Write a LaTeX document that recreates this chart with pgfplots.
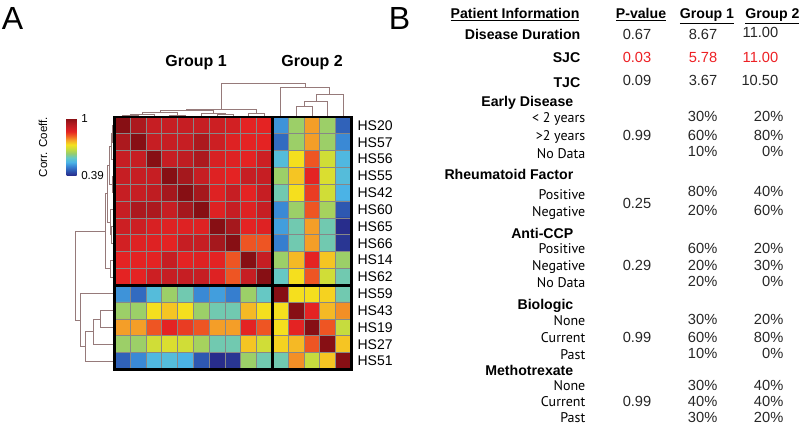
\documentclass[border=0pt]{standalone}
\usepackage{fontspec}
\setmainfont{Liberation Sans}
\newfontfamily\subfont{PT Sans}
\usepackage{pgfplots}
\usepackage{pgfplotstable}
\pgfplotsset{compat=1.18}
\definecolor{dendro}{RGB}{150,122,122}
\definecolor{sigred}{RGB}{237,32,36}
\definecolor{cellgrid}{RGB}{135,135,135}
\newcommand\hd{\fontsize{10.6}{12}\selectfont\bfseries}
\newcommand\sublab{\subfont\fontsize{10.5}{12}\selectfont}
\newcommand\nm{\fontsize{11}{13}\selectfont\color{black!85}}

% correlation matrix: x = column, y = row (HS20 ... HS51)
\pgfplotstableread[row sep=\\]{
x y c\\
1 1 1.00\\ 2 1 0.95\\ 3 1 0.91\\ 4 1 0.91\\ 5 1 0.91\\ 6 1 0.91\\ 7 1 0.90\\ 8 1 0.89\\ 9 1 0.86\\ 10 1 0.86\\ 11 1 0.50\\ 12 1 0.63\\ 13 1 0.77\\ 14 1 0.63\\ 15 1 0.45\\
1 2 0.95\\ 2 2 1.00\\ 3 2 0.91\\ 4 2 0.91\\ 5 2 0.91\\ 6 2 0.95\\ 7 2 0.90\\ 8 2 0.87\\ 9 2 0.86\\ 10 2 0.86\\ 11 2 0.46\\ 12 2 0.63\\ 13 2 0.77\\ 14 2 0.63\\ 15 2 0.49\\
1 3 0.91\\ 2 3 0.91\\ 3 3 1.00\\ 4 3 0.91\\ 5 3 0.92\\ 6 3 0.95\\ 7 3 0.88\\ 8 3 0.87\\ 9 3 0.86\\ 10 3 0.90\\ 11 3 0.55\\ 12 3 0.72\\ 13 3 0.82\\ 14 3 0.68\\ 15 3 0.54\\
1 4 0.91\\ 2 4 0.91\\ 3 4 0.91\\ 4 4 1.00\\ 5 4 0.96\\ 6 4 0.91\\ 7 4 0.87\\ 8 4 0.86\\ 9 4 0.91\\ 10 4 0.91\\ 11 4 0.63\\ 12 4 0.74\\ 13 4 0.86\\ 14 4 0.69\\ 15 4 0.55\\
1 5 0.91\\ 2 5 0.91\\ 3 5 0.92\\ 4 5 0.96\\ 5 5 1.00\\ 6 5 0.96\\ 7 5 0.87\\ 8 5 0.91\\ 9 5 0.86\\ 10 5 0.91\\ 11 5 0.59\\ 12 5 0.72\\ 13 5 0.84\\ 14 5 0.68\\ 15 5 0.53\\
1 6 0.91\\ 2 6 0.95\\ 3 6 0.95\\ 4 6 0.91\\ 5 6 0.96\\ 6 6 1.00\\ 7 6 0.87\\ 8 6 0.91\\ 9 6 0.87\\ 10 6 0.91\\ 11 6 0.49\\ 12 6 0.63\\ 13 6 0.82\\ 14 6 0.64\\ 15 6 0.44\\
1 7 0.90\\ 2 7 0.90\\ 3 7 0.88\\ 4 7 0.87\\ 5 7 0.87\\ 6 7 0.87\\ 7 7 1.00\\ 8 7 0.96\\ 9 7 0.86\\ 10 7 0.87\\ 11 7 0.51\\ 12 7 0.59\\ 13 7 0.77\\ 14 7 0.59\\ 15 7 0.39\\
1 8 0.89\\ 2 8 0.87\\ 3 8 0.87\\ 4 8 0.86\\ 5 8 0.91\\ 6 8 0.91\\ 7 8 0.96\\ 8 8 1.00\\ 9 8 0.82\\ 10 8 0.82\\ 11 8 0.48\\ 12 8 0.59\\ 13 8 0.77\\ 14 8 0.59\\ 15 8 0.40\\
1 9 0.86\\ 2 9 0.86\\ 3 9 0.86\\ 4 9 0.91\\ 5 9 0.86\\ 6 9 0.87\\ 7 9 0.86\\ 8 9 0.82\\ 9 9 1.00\\ 10 9 0.91\\ 11 9 0.63\\ 12 9 0.75\\ 13 9 0.86\\ 14 9 0.74\\ 15 9 0.63\\
1 10 0.86\\ 2 10 0.86\\ 3 10 0.90\\ 4 10 0.91\\ 5 10 0.91\\ 6 10 0.91\\ 7 10 0.87\\ 8 10 0.82\\ 9 10 0.91\\ 10 10 1.00\\ 11 10 0.58\\ 12 10 0.72\\ 13 10 0.82\\ 14 10 0.68\\ 15 10 0.59\\
1 11 0.50\\ 2 11 0.46\\ 3 11 0.55\\ 4 11 0.63\\ 5 11 0.59\\ 6 11 0.49\\ 7 11 0.51\\ 8 11 0.48\\ 9 11 0.63\\ 10 11 0.58\\ 11 11 1.00\\ 12 11 0.72\\ 13 11 0.72\\ 14 11 0.73\\ 15 11 0.59\\
1 12 0.63\\ 2 12 0.63\\ 3 12 0.72\\ 4 12 0.74\\ 5 12 0.72\\ 6 12 0.63\\ 7 12 0.59\\ 8 12 0.59\\ 9 12 0.75\\ 10 12 0.72\\ 11 12 0.72\\ 12 12 1.00\\ 13 12 0.86\\ 14 12 0.75\\ 15 12 0.78\\
1 13 0.77\\ 2 13 0.77\\ 3 13 0.82\\ 4 13 0.86\\ 5 13 0.84\\ 6 13 0.82\\ 7 13 0.77\\ 8 13 0.77\\ 9 13 0.86\\ 10 13 0.82\\ 11 13 0.72\\ 12 13 0.86\\ 13 13 1.00\\ 14 13 0.82\\ 15 13 0.67\\
1 14 0.63\\ 2 14 0.63\\ 3 14 0.68\\ 4 14 0.69\\ 5 14 0.68\\ 6 14 0.64\\ 7 14 0.59\\ 8 14 0.59\\ 9 14 0.74\\ 10 14 0.68\\ 11 14 0.73\\ 12 14 0.75\\ 13 14 0.82\\ 14 14 1.00\\ 15 14 0.74\\
1 15 0.45\\ 2 15 0.49\\ 3 15 0.54\\ 4 15 0.55\\ 5 15 0.53\\ 6 15 0.44\\ 7 15 0.39\\ 8 15 0.40\\ 9 15 0.63\\ 10 15 0.59\\ 11 15 0.59\\ 12 15 0.78\\ 13 15 0.67\\ 14 15 0.74\\ 15 15 1.00\\
}\corrtable

\begin{document}
\begin{tikzpicture}
\useasboundingbox (0,0) rectangle (600pt,-320.25pt);
\begin{axis}[
  at={(85.9pt,-87.75pt)}, anchor=north west,
  scale only axis, width=177.75pt, height=189.4pt,
  xmin=0.5, xmax=15.5, ymin=0.5, ymax=15.5, y dir=reverse,
  clip=false, axis on top,
  axis line style={black, line width=2.2pt},
  major tick length=0pt,
  xtick=\empty,
  ytick={1,...,15},
  yticklabels={HS20,HS57,HS56,HS55,HS42,HS60,HS65,HS66,HS14,HS62,HS59,HS43,HS19,HS27,HS51},
  yticklabel pos=right,
  yticklabel style={font=\fontsize{10.5}{12}\selectfont, xshift=1pt},
  extra x ticks={10.5}, extra y ticks={10.5},
  extra x tick labels={}, extra y tick labels={},
  extra tick style={grid=major, major grid style={black, line width=2.2pt}},
  colormap={corr}{rgb255=(40,45,140) rgb255=(45,85,175) rgb255=(55,130,210)
    rgb255=(75,180,230) rgb255=(100,200,200) rgb255=(150,205,110)
    rgb255=(200,220,60) rgb255=(245,225,30) rgb255=(245,165,40)
    rgb255=(240,95,35) rgb255=(228,35,35) rgb255=(200,30,35)
    rgb255=(170,25,30) rgb255=(135,15,20)},
  point meta min=0.39, point meta max=1,
  colorbar,
  colorbar style={
    at={(parent axis.north west)}, anchor=north east,
    xshift=-37pt, yshift=-1pt,
    scale only axis, width=7.5pt, height=42.75pt,
    ytick={0.39,1}, yticklabels={0.39,1},
    yticklabel pos=right,
    yticklabel style={font=\fontsize{8.7}{10}\selectfont},
    major tick length=0pt,
    axis line style={draw=none},
  },
]
\addplot[matrix plot*, shader=flat corner, mesh/cols=15, point meta=explicit]
  table[x=x, y=y, meta=c] {\corrtable};

% thin grey lines between cells
\addplot[cellgrid, line width=0.7pt, unbounded coords=jump] coordinates {
  (1.5,0.5)(1.5,15.5) (nan,nan) (2.5,0.5)(2.5,15.5) (nan,nan)
  (3.5,0.5)(3.5,15.5) (nan,nan) (4.5,0.5)(4.5,15.5) (nan,nan)
  (5.5,0.5)(5.5,15.5) (nan,nan) (6.5,0.5)(6.5,15.5) (nan,nan)
  (7.5,0.5)(7.5,15.5) (nan,nan) (8.5,0.5)(8.5,15.5) (nan,nan)
  (9.5,0.5)(9.5,15.5) (nan,nan) (11.5,0.5)(11.5,15.5) (nan,nan)
  (12.5,0.5)(12.5,15.5) (nan,nan) (13.5,0.5)(13.5,15.5) (nan,nan)
  (14.5,0.5)(14.5,15.5) (nan,nan)
  (0.5,1.5)(15.5,1.5) (nan,nan) (0.5,2.5)(15.5,2.5) (nan,nan)
  (0.5,3.5)(15.5,3.5) (nan,nan) (0.5,4.5)(15.5,4.5) (nan,nan)
  (0.5,5.5)(15.5,5.5) (nan,nan) (0.5,6.5)(15.5,6.5) (nan,nan)
  (0.5,7.5)(15.5,7.5) (nan,nan) (0.5,8.5)(15.5,8.5) (nan,nan)
  (0.5,9.5)(15.5,9.5) (nan,nan) (0.5,11.5)(15.5,11.5) (nan,nan)
  (0.5,12.5)(15.5,12.5) (nan,nan) (0.5,13.5)(15.5,13.5) (nan,nan)
  (0.5,14.5)(15.5,14.5)
};

% column dendrogram (above)
\addplot[dendro, line width=0.6pt, unbounded coords=jump] coordinates {
  (1,0.5)(1,0.41)(2,0.41)(2,0.5) (nan,nan)
  (1.5,0.41)(1.5,0.32)(3,0.32)(3,0.5) (nan,nan)
  (4,0.5)(4,0.38)(5,0.38)(5,0.5) (nan,nan)
  (2.25,0.32)(2.25,0.23)(4.5,0.23)(4.5,0.38) (nan,nan)
  (7,0.5)(7,0.35)(8,0.35)(8,0.5) (nan,nan)
  (6,0.5)(6,0.26)(7.5,0.26)(7.5,0.35) (nan,nan)
  (3.375,0.23)(3.375,0.11)(6.75,0.11)(6.75,0.26) (nan,nan)
  (9,0.5)(9,0.26)(10,0.26)(10,0.5) (nan,nan)
  (5.06,0.11)(5.06,0.02)(9.5,0.02)(9.5,0.26) (nan,nan)
  (12,0.5)(12,-0.157)(13,-0.157)(13,0.5) (nan,nan)
  (12.5,-0.157)(12.5,-0.455)(14,-0.455)(14,0.5) (nan,nan)
  (13.25,-0.455)(13.25,-0.83)(15,-0.83)(15,0.5) (nan,nan)
  (11,0.5)(11,-1.23)(14.125,-1.23)(14.125,-0.83) (nan,nan)
  (7.28,0.02)(7.28,-1.49)(12.56,-1.49)(12.56,-1.23)
};

% row dendrogram (left)
\addplot[dendro, line width=0.6pt, unbounded coords=jump] coordinates {
  (0.5,1)(0.373,1)(0.373,2)(0.5,2) (nan,nan)
  (0.373,1.5)(0.278,1.5)(0.278,3)(0.5,3) (nan,nan)
  (0.5,4)(0.342,4)(0.342,5)(0.5,5) (nan,nan)
  (0.278,2.25)(0.184,2.25)(0.184,4.5)(0.342,4.5) (nan,nan)
  (0.5,7)(0.31,7)(0.31,8)(0.5,8) (nan,nan)
  (0.5,6)(0.215,6)(0.215,7.5)(0.31,7.5) (nan,nan)
  (0.184,3.375)(0.057,3.375)(0.057,6.75)(0.215,6.75) (nan,nan)
  (0.5,9)(0.215,9)(0.215,10)(0.5,10) (nan,nan)
  (0.057,5.06)(-0.07,5.06)(-0.07,9.5)(0.215,9.5) (nan,nan)
  (0.5,12)(-0.386,12)(-0.386,13)(0.5,13) (nan,nan)
  (-0.386,12.5)(-0.829,12.5)(-0.829,14)(0.5,14) (nan,nan)
  (-0.829,13.25)(-1.335,13.25)(-1.335,15)(0.5,15) (nan,nan)
  (0.5,11)(-1.652,11)(-1.652,14.125)(-1.335,14.125) (nan,nan)
  (-0.07,7.28)(-1.968,7.28)(-1.968,12.56)(-1.652,12.56)
};
\end{axis}

\begin{scope}[x=0.75pt, y=-0.75pt]
% panel letters and group titles
\node[font=\fontsize{24}{28}\selectfont] at (12.5,18.5) {A};
\node[font=\fontsize{24}{28}\selectfont] at (399.5,18.5) {B};
\node[font=\fontsize{12}{14}\selectfont\bfseries] at (196,63) {Group 1};
\node[font=\fontsize{12}{14}\selectfont\bfseries] at (312,63) {Group 2};
\node[font=\fontsize{8.7}{10}\selectfont, rotate=90] at (43,147) {Corr. Coeff.};

% table header
\node[anchor=mid, font=\hd] at (515,15) {\underline{Patient Information}};
\node[anchor=mid, font=\hd] at (641,15) {\underline{P-value}};
\node[anchor=mid, font=\hd] at (707,15) {\underline{Group 1}};
\node[anchor=mid west, font=\hd, inner xsep=0pt] at (745,15) {\underline{Group 2}};

% continuous variables
\node[anchor=mid east, font=\hd] at (585,36) {Disease Duration};
\node[anchor=mid east, font=\nm] at (656,36) {0.67};
\node[anchor=mid east, font=\nm] at (722,36) {8.67};
\node[anchor=mid east, font=\nm] at (783,34) {11.00};
\node[anchor=mid east, font=\hd] at (585,59) {SJC};
\node[anchor=mid east, font=\nm\color{sigred}] at (656,59) {0.03};
\node[anchor=mid east, font=\nm\color{sigred}] at (722,59) {5.78};
\node[anchor=mid east, font=\nm\color{sigred}] at (783,59) {11.00};
\node[anchor=mid east, font=\hd] at (585,84) {TJC};
\node[anchor=mid east, font=\nm] at (656,82) {0.09};
\node[anchor=mid east, font=\nm] at (722,82) {3.67};
\node[anchor=mid east, font=\nm] at (783,82) {10.50};

% Early Disease
\node[anchor=mid east, font=\hd] at (578,103) {Early Disease};
\node[anchor=mid east, font=\sublab] at (590,119) {< 2 years};
\node[anchor=mid east, font=\nm] at (722,118) {30\%};
\node[anchor=mid east, font=\nm] at (788,118) {20\%};
\node[anchor=mid east, font=\sublab] at (590,137) {>2 years};
\node[anchor=mid east, font=\nm] at (656,137) {0.99};
\node[anchor=mid east, font=\nm] at (722,137) {60\%};
\node[anchor=mid east, font=\nm] at (788,137) {80\%};
\node[anchor=mid east, font=\sublab] at (590,155) {No Data};
\node[anchor=mid east, font=\nm] at (722,153) {10\%};
\node[anchor=mid east, font=\nm] at (788,153) {0\%};

% Rheumatoid Factor
\node[anchor=mid east, font=\hd] at (578,176) {Rheumatoid Factor};
\node[anchor=mid east, font=\sublab] at (590,196) {Positive};
\node[anchor=mid east, font=\nm] at (722,193) {80\%};
\node[anchor=mid east, font=\nm] at (788,193) {40\%};
\node[anchor=mid east, font=\nm] at (656,205) {0.25};
\node[anchor=mid east, font=\sublab] at (590,213) {Negative};
\node[anchor=mid east, font=\nm] at (722,212) {20\%};
\node[anchor=mid east, font=\nm] at (788,212) {60\%};

% Anti-CCP
\node[anchor=mid east, font=\hd] at (578,235) {Anti-CCP};
\node[anchor=mid east, font=\sublab] at (590,250) {Positive};
\node[anchor=mid east, font=\nm] at (722,250) {60\%};
\node[anchor=mid east, font=\nm] at (788,250) {20\%};
\node[anchor=mid east, font=\sublab] at (590,267) {Negative};
\node[anchor=mid east, font=\nm] at (656,267) {0.29};
\node[anchor=mid east, font=\nm] at (722,267) {20\%};
\node[anchor=mid east, font=\nm] at (788,267) {30\%};
\node[anchor=mid east, font=\sublab] at (590,284) {No Data};
\node[anchor=mid east, font=\nm] at (722,283) {20\%};
\node[anchor=mid east, font=\nm] at (788,283) {0\%};

% Biologic
\node[anchor=mid east, font=\hd] at (578,306) {Biologic};
\node[anchor=mid east, font=\sublab] at (590,322) {None};
\node[anchor=mid east, font=\nm] at (722,321) {30\%};
\node[anchor=mid east, font=\nm] at (788,321) {20\%};
\node[anchor=mid east, font=\sublab] at (590,339) {Current};
\node[anchor=mid east, font=\nm] at (656,339) {0.99};
\node[anchor=mid east, font=\nm] at (722,339) {60\%};
\node[anchor=mid east, font=\nm] at (788,339) {80\%};
\node[anchor=mid east, font=\sublab] at (590,356) {Past};
\node[anchor=mid east, font=\nm] at (722,355) {10\%};
\node[anchor=mid east, font=\nm] at (788,355) {0\%};

% Methotrexate
\node[anchor=mid east, font=\hd] at (578,372) {Methotrexate};
\node[anchor=mid east, font=\sublab] at (590,387) {None};
\node[anchor=mid east, font=\nm] at (722,387) {30\%};
\node[anchor=mid east, font=\nm] at (788,387) {40\%};
\node[anchor=mid east, font=\sublab] at (590,403) {Current};
\node[anchor=mid east, font=\nm] at (656,403) {0.99};
\node[anchor=mid east, font=\nm] at (722,403) {40\%};
\node[anchor=mid east, font=\nm] at (788,403) {40\%};
\node[anchor=mid east, font=\sublab] at (590,419) {Past};
\node[anchor=mid east, font=\nm] at (722,419) {30\%};
\node[anchor=mid east, font=\nm] at (788,419) {20\%};
\end{scope}
\end{tikzpicture}
\end{document}
